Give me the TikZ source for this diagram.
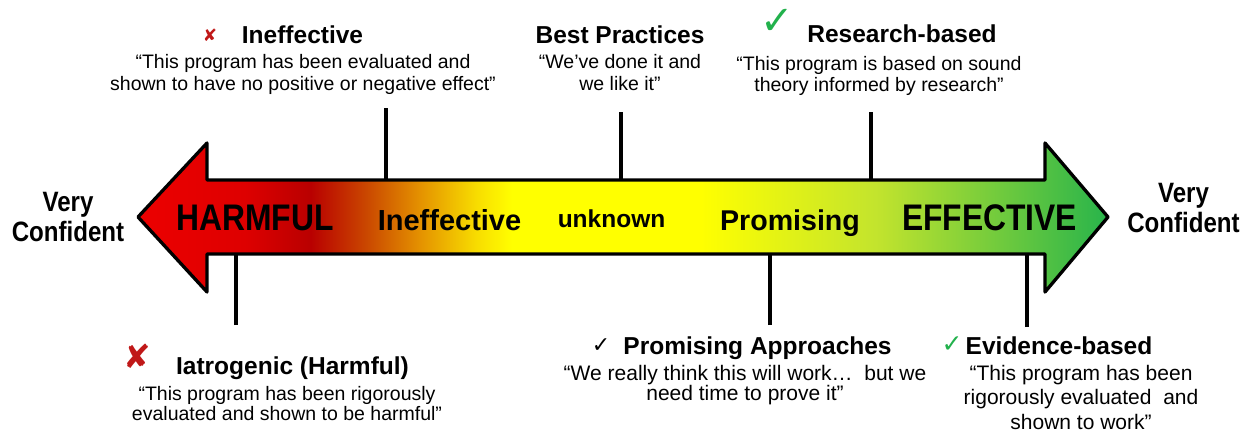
\documentclass[tikz,border=0pt]{standalone}
\usepackage{fontspec}
\setmainfont{Liberation Sans}
\newfontfamily\narrowsans{Liberation Sans}[FakeStretch=0.86]
\newfontfamily\marksans{DejaVu Sans}
\usetikzlibrary{positioning}
\definecolor{ScaleRed}{RGB}{236,0,0}
\definecolor{ScaleCrimson}{RGB}{222,0,0}
\definecolor{ScaleDeep}{RGB}{185,0,0}
\definecolor{ScaleRust}{RGB}{202,72,0}
\definecolor{ScaleOrange}{RGB}{228,145,0}
\definecolor{ScaleAmber}{RGB}{248,222,0}
\definecolor{ScaleYellow}{RGB}{255,255,0}
\definecolor{ScaleLime}{RGB}{195,228,45}
\definecolor{ScaleGreen}{RGB}{40,180,75}
\definecolor{MarkRed}{RGB}{192,24,24}
\definecolor{MarkGreen}{RGB}{34,177,76}
\pgfdeclarehorizontalshading{riskscale}{100bp}{color(0bp)=(ScaleRed); color(25bp)=(ScaleRed);
  color(30.5bp)=(ScaleCrimson); color(33.9bp)=(ScaleDeep); color(36.8bp)=(ScaleRust);
  color(39.5bp)=(ScaleOrange); color(42.5bp)=(ScaleAmber); color(44.3bp)=(ScaleYellow);
  color(54bp)=(ScaleYellow); color(63bp)=(ScaleLime); color(75bp)=(ScaleGreen); color(100bp)=(ScaleGreen)}

\begin{document}
\begin{tikzpicture}[
    x=1pt,y=-1pt,
    scalearrow/.style={shade,shading=riskscale,draw=black,line width=3.3pt,line join=round},
    stemline/.style={draw=black,line width=3.3pt},
    heading/.style={font=\bfseries\fontsize{24.5}{26}\selectfont,inner sep=0pt,anchor=base},
    saying/.style={align=center,inner sep=0pt,anchor=north,font=\fontsize{19.5}{22}\selectfont},
    bandtext/.style={font=\bfseries\fontsize{29}{31}\selectfont,inner sep=0pt,anchor=base},
    bigband/.style={font=\narrowsans\bfseries\fontsize{37}{40}\selectfont,inner sep=0pt,anchor=base},
    sidetext/.style={align=center,inner sep=0pt,anchor=north,font=\narrowsans\bfseries\fontsize{28}{30}\selectfont},
    xmark/.style={text=MarkRed,inner sep=0pt,font=\marksans},
    cmark/.style={inner sep=0pt,font=\marksans}
  ]
    \useasboundingbox (0,0) rectangle (1252,434);
    \path[scalearrow] (138,217) -- (207,143) -- (207,180) -- (1045,180) -- (1045,143) -- (1108,217)
      -- (1045,292) -- (1045,254) -- (207,254) -- (207,292) -- cycle;
    \coordinate (shafttop) at (0,180);
    \coordinate (shaftbot) at (0,254);
    \coordinate (ineffstem) at (386,108);
    \coordinate (beststem) at (621,112);
    \coordinate (researchstem) at (871,112);
    \coordinate (iatrostem) at (236,325);
    \coordinate (promisestem) at (770,325);
    \coordinate (evidencestem) at (1027,327);
    \draw[stemline] (ineffstem) -- (ineffstem |- shafttop);
    \draw[stemline] (beststem) -- (beststem |- shafttop);
    \draw[stemline] (researchstem) -- (researchstem |- shafttop);
    \draw[stemline] (iatrostem) -- (iatrostem |- shaftbot);
    \draw[stemline] (promisestem) -- (promisestem |- shaftbot);
    \draw[stemline] (evidencestem) -- (evidencestem |- shaftbot);
    \node[bigband] (harmful) at (255,230) {HARMFUL};
    \node[bandtext] (ineffband) at (449.5,230) {Ineffective};
    \node[bandtext,font=\bfseries\fontsize{24.5}{26}\selectfont] (unknown) at (611.5,227) {unknown};
    \node[bandtext,font=\bfseries\fontsize{28.6}{30}\selectfont] (promiseband) at (790,230) {Promising};
    \node[bigband] (effective) at (989.5,230) {EFFECTIVE};
    \node[sidetext] (leftconf) at (68,192.5) {Very\\Confident};
    \node[sidetext] (rightconf) at (1183.5,183.5) {Very\\Confident};
    \node[heading] (ineff) at (302.5,43) {Ineffective};
    \node[saying] (ineffq) at (303,54) {“This program has been evaluated and\\shown to have no positive or negative effect”};
    \node[xmark,font=\marksans\fontsize{17}{17}\selectfont] (ineffx) at (210,35) {✘};
    \node[heading] (best) at (620,43) {Best Practices};
    \node[saying] (bestq) at (620,54) {“We’ve done it and\\we like it”};
    \node[heading] (research) at (902,42) {Research-based};
    \node[saying,font=\fontsize{19.5}{21}\selectfont] (researchq) at (879,56) {“This program is based on sound\\theory informed by research”};
    \node[cmark,text=MarkGreen,font=\marksans\fontsize{40}{40}\selectfont] (researchc) at (777,22) {✓};
    \node[heading] (iatro) at (292.5,374) {Iatrogenic (Harmful)};
    \node[saying,font=\fontsize{19.5}{20.5}\selectfont] (iatroq) at (287,386) {“This program has been rigorously\\evaluated and shown to be harmful”};
    \node[xmark,font=\marksans\fontsize{33}{33}\selectfont] (iatrox) at (137,356) {✘};
    \node[heading] (promise) at (757.5,354) {Promising Approaches};
    \node[saying,font=\fontsize{21}{20.5}\selectfont] (promiseq) at (745,365) {“We really think this will work…~ but we\\need time to prove it”};
    \node[cmark,font=\marksans\fontsize{22}{22}\selectfont] (promisec) at (601,346) {✓};
    \node[heading] (evidence) at (1059,354) {Evidence-based};
    \node[saying,font=\fontsize{21}{24.5}\selectfont] (evidenceq) at (1081,365) {“This program has been\\rigorously evaluated~ and\\shown to work”};
    \node[cmark,text=MarkGreen,font=\marksans\fontsize{25}{25}\selectfont] (evidencec) at (952,345) {✓};
  \end{tikzpicture}
\end{document}
